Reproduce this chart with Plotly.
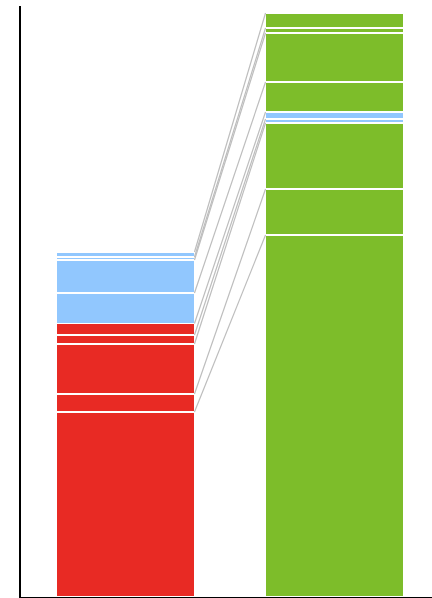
import numpy as np
import plotly.graph_objects as go

# Data
categories = [0, 1]
series_names = ["S1", "S2", "S3", "S4", "S5", "S6", "S7", "S8", "S9"]
left_values = [185, 18, 50, 9, 11.5, 30.5, 33, 3, 5]
right_values = [362, 46, 66, 4, 7, 30, 49, 5, 15]
left_colors = ["red", "red", "red", "red", "red", "blue", "blue", "blue", "blue"]
right_colors = ["green", "green", "green", "blue", "blue", "green", "green", "green", "green"]

palette = {"red": "#E82A24", "green": "#7DBD2A", "blue": "#91C7FE"}
bargap = 0.34
half_w = (1 - bargap) / 2

fig = go.Figure()

left_tops = np.cumsum(left_values)
right_tops = np.cumsum(right_values)

for k in range(len(series_names)):
    fig.add_trace(go.Scatter(
        x=[categories[0] + half_w, categories[1] - half_w],
        y=[left_tops[k], right_tops[k]],
        mode="lines",
        line=dict(color="#BDBDBD", width=1.2),
        hoverinfo="skip",
        showlegend=False,
    ))

for k, name in enumerate(series_names):
    fig.add_trace(go.Bar(
        x=categories,
        y=[left_values[k], right_values[k]],
        name=name,
        marker=dict(
            color=[palette[left_colors[k]], palette[right_colors[k]]],
            line=dict(color="white", width=1.5),
        ),
        showlegend=False,
    ))

fig.update_layout(
    barmode="stack",
    bargap=bargap,
    width=432,
    height=598,
    margin=dict(l=21, r=0, t=6, b=1),
    paper_bgcolor="white",
    plot_bgcolor="white",
    hovermode=False,
    xaxis=dict(
        range=[-0.5, 1.4665],
        showgrid=False,
        zeroline=False,
        showticklabels=False,
        ticks="",
        showline=True,
        linecolor="black",
        linewidth=2,
    ),
    yaxis=dict(
        range=[0, 591],
        showgrid=False,
        zeroline=False,
        showticklabels=False,
        ticks="",
        showline=True,
        linecolor="black",
        linewidth=2,
    ),
)

fig.write_html(
    "out.html",
    config={"displayModeBar": False},
    post_script="document.body.style.margin='0';document.body.style.padding='0';",
)
